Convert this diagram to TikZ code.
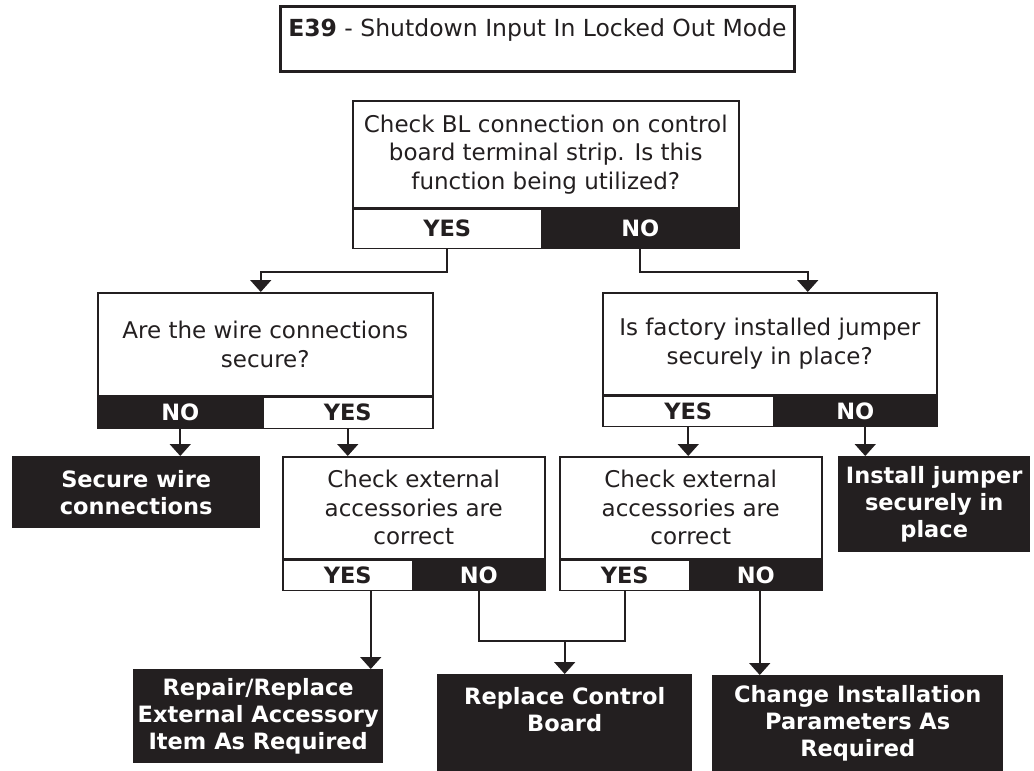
\documentclass[tikz,border=0pt]{standalone}
\usepackage{fontspec}
\setmainfont{DejaVu Sans}
\usetikzlibrary{positioning,calc,arrows.meta}
\definecolor{ink}{RGB}{35,31,32}

\begin{document}
\begin{tikzpicture}[
    x=1pt, y=-1pt,
    font=\fontsize{23}{28.5}\selectfont,
    titlebox/.style={rectangle, draw=ink, line width=2.8pt, text=ink, inner sep=0pt, anchor=north west, font=\fontsize{23.5}{28}\selectfont},
    question/.style={rectangle, draw=ink, line width=1.5pt, text=ink, align=center, inner sep=0pt, anchor=north west},
    yesbox/.style={rectangle, draw=ink, line width=1.5pt, fill=white, text=ink, inner sep=0pt, anchor=north west, font=\fontsize{22.5}{26}\selectfont\bfseries},
    nobox/.style={rectangle, draw=ink, line width=1.5pt, fill=ink, text=white, inner sep=0pt, anchor=north east, font=\fontsize{22.5}{26}\selectfont\bfseries},
    action/.style={rectangle, fill=ink, text=white, align=center, inner sep=0pt, anchor=north west, font=\fontsize{22.5}{27}\selectfont\bfseries},
    link/.style={draw=ink, line width=1.8pt},
    arrow/.style={link, -{Triangle[width=21pt,length=12pt]}}
]
\useasboundingbox (0,0) rectangle (1034,771);

% Title
\node[titlebox, minimum width=514, minimum height=65, text height=16pt, text depth=20pt] (title) at (279,5) {\textbf{E39} - Shutdown Input In Locked Out Mode};

% First question
\node[question, minimum width=386, minimum height=107] (q1) at (352,100) {Check BL connection on control\\board terminal strip. Is this\\function being utilized?};
\node[yesbox, minimum width=189, minimum height=39] (q1yes) at (q1.south west) {YES};
\node[nobox, minimum width=197, minimum height=39] (q1no) at (q1.south east) {NO};

% Second row
\node[question, minimum width=335, minimum height=103] (q2) at (97,292) {Are the wire connections\\secure?};
\node[nobox, anchor=north west, minimum width=165, minimum height=31] (q2no) at (q2.south west) {NO};
\node[yesbox, anchor=north east, minimum width=170, minimum height=31] (q2yes) at (q2.south east) {YES};

\node[question, minimum width=334, minimum height=102] (q3) at (602,292) {Is factory installed jumper\\securely in place?};
\node[yesbox, minimum width=171, minimum height=30] (q3yes) at (q3.south west) {YES};
\node[nobox, minimum width=163, minimum height=30] (q3no) at (q3.south east) {NO};

% Third row
\node[action, minimum width=248, minimum height=72] (wire) at (12,456) {Secure wire\\connections};

\node[question, minimum width=262, minimum height=102] (q4) at (282,456) {Check external\\accessories are\\correct};
\node[yesbox, minimum width=130, minimum height=30] (q4yes) at (q4.south west) {YES};
\node[nobox, minimum width=132, minimum height=30] (q4no) at (q4.south east) {NO};

\node[question, minimum width=262, minimum height=102] (q5) at (559,456) {Check external\\accessories are\\correct};
\node[yesbox, minimum width=130, minimum height=30] (q5yes) at (q5.south west) {YES};
\node[nobox, minimum width=132, minimum height=30] (q5no) at (q5.south east) {NO};

\node[action, minimum width=192, minimum height=96] (jumper) at (838,456) {Install jumper\\securely in\\place};

% Bottom row
\node[action, minimum width=250, minimum height=94] (repair) at (133,669) {Repair/Replace\\External Accessory\\Item As Required};
\node[action, minimum width=255, minimum height=97] (board) at (437,674) {Replace Control\\Board\\\mbox{}};
\node[action, minimum width=291, minimum height=96] (params) at (712,675) {Change Installation\\Parameters As\\Required};

% Connectors
\draw[arrow] (q1yes.south) -- ++(0,23) -| ([xshift=-4.5pt]q2.north);
\draw[arrow] (q1no.south) -- ++(0,23) -| ([xshift=38pt]q3.north);
\draw[arrow] (q2no.south) -- (q2no.south |- wire.north);
\draw[arrow] (q2yes.south) -- (q2yes.south |- q4.north);
\draw[arrow] (q3yes.south) -- (q3yes.south |- q5.north);
\draw[arrow] ([xshift=10pt]q3no.south) -- ([xshift=10pt]q3no.south |- jumper.north);
\draw[arrow] ([xshift=23pt]q4yes.south) -- ([xshift=23pt]q4yes.south |- repair.north);
\coordinate (join) at ($(q4no.south)+(0,50)$);
\draw[link] (q4no.south) -- (join) -| (q5yes.south);
\draw[arrow] (join -| board.north) -- (board.north);
\draw[arrow] ([xshift=4pt]q5no.south) -- ([xshift=4pt]q5no.south |- params.north);

\end{tikzpicture}
\end{document}
